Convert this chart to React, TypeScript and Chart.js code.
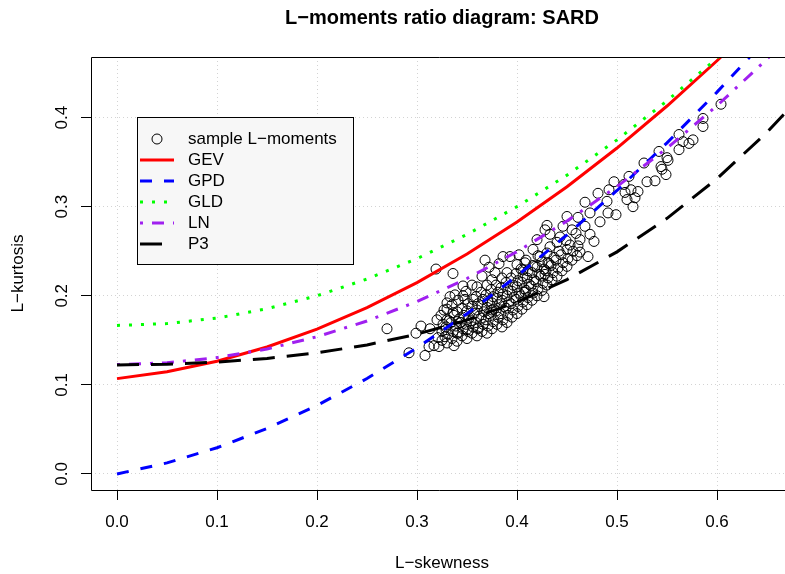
import React, { useEffect, useRef } from "react";
import { Chart, registerables } from "chart.js";

Chart.register(...registerables);

const FONT = '"Liberation Sans", Arial, Helvetica, sans-serif';

const chartTitle = "L\u2212moments ratio diagram: SARD";
const xAxisTitle = "L\u2212skewness";
const yAxisTitle = "L\u2212kurtosis";

const xTickValues = [0, 0.1, 0.2, 0.3, 0.4, 0.5, 0.6];
const yTickValues = [0, 0.1, 0.2, 0.3, 0.4];

// L-skewness grid for the theoretical curves
const skewGrid = [0, 0.05, 0.1, 0.15, 0.2, 0.25, 0.3, 0.35, 0.4, 0.45, 0.5, 0.55, 0.6, 0.65, 0.7];
const gevKurt = [0.1070, 0.1147, 0.1265, 0.1425, 0.1626, 0.1867, 0.2148, 0.2468, 0.2827, 0.3224, 0.3658, 0.4130, 0.4638, 0.5182, 0.5762];
const gpdKurt = [0.0, 0.0124, 0.0294, 0.0510, 0.0769, 0.1071, 0.1415, 0.1799, 0.2222, 0.2683, 0.3182, 0.3716, 0.4286, 0.4889, 0.5526];
const gldKurt = [0.1667, 0.1688, 0.1750, 0.1854, 0.2000, 0.2188, 0.2417, 0.2688, 0.3000, 0.3354, 0.3750, 0.4188, 0.4667, 0.5188, 0.5750];
const lnKurt = [0.1228, 0.1248, 0.1306, 0.1403, 0.1540, 0.1717, 0.1935, 0.2194, 0.2495, 0.2839, 0.3226, 0.3657, 0.4133, 0.4656, 0.5226];
const p3Kurt = [0.1224, 0.1232, 0.1255, 0.1297, 0.1359, 0.1448, 0.1569, 0.1727, 0.1929, 0.2182, 0.2493, 0.2869, 0.3314, 0.3835, 0.4435];

const curveNames = ["GEV", "GPD", "GLD", "LN", "P3"];
const curveValues = [gevKurt, gpdKurt, gldKurt, lnKurt, p3Kurt];
const curveColors = ["#FF0000", "#0000FF", "#00FF00", "#A020F0", "#000000"];
const curveDashes: number[][] = [[], [12, 12], [3, 9], [3, 9, 12, 9], [22, 12]];

const sampleLabel = "sample L\u2212moments";
// [L-skewness, L-kurtosis]
const samplePoints: [number, number][] = [
  [0.325, 0.150], [0.325, 0.160], [0.326, 0.168], [0.324, 0.178],
  [0.330, 0.147], [0.331, 0.157], [0.329, 0.165], [0.332, 0.172], [0.330, 0.185],
  [0.335, 0.152], [0.336, 0.160], [0.334, 0.170], [0.337, 0.178], [0.335, 0.190],
  [0.340, 0.149], [0.341, 0.158], [0.339, 0.166], [0.342, 0.174], [0.340, 0.182], [0.341, 0.195],
  [0.345, 0.155], [0.346, 0.163], [0.344, 0.170], [0.347, 0.178], [0.345, 0.186], [0.346, 0.200],
  [0.350, 0.152], [0.351, 0.160], [0.349, 0.168], [0.352, 0.175], [0.350, 0.183], [0.351, 0.191], [0.349, 0.205],
  [0.355, 0.158], [0.356, 0.165], [0.354, 0.172], [0.357, 0.180], [0.355, 0.188], [0.356, 0.196],
  [0.360, 0.155], [0.361, 0.163], [0.359, 0.170], [0.362, 0.177], [0.360, 0.184], [0.361, 0.191], [0.359, 0.199], [0.360, 0.210],
  [0.365, 0.160], [0.366, 0.168], [0.364, 0.175], [0.367, 0.182], [0.365, 0.189], [0.366, 0.196], [0.364, 0.204],
  [0.370, 0.158], [0.371, 0.166], [0.369, 0.173], [0.372, 0.180], [0.370, 0.187], [0.371, 0.194], [0.369, 0.201], [0.370, 0.212],
  [0.375, 0.163], [0.376, 0.171], [0.374, 0.178], [0.377, 0.185], [0.375, 0.192], [0.376, 0.199], [0.374, 0.207], [0.375, 0.218],
  [0.380, 0.168], [0.381, 0.176], [0.379, 0.183], [0.382, 0.190], [0.380, 0.197], [0.381, 0.204], [0.379, 0.212],
  [0.385, 0.165], [0.386, 0.173], [0.384, 0.180], [0.387, 0.188], [0.385, 0.195], [0.386, 0.202], [0.384, 0.209], [0.385, 0.220],
  [0.390, 0.170], [0.391, 0.178], [0.389, 0.186], [0.392, 0.193], [0.390, 0.200], [0.391, 0.207], [0.389, 0.215], [0.390, 0.226],
  [0.395, 0.176], [0.396, 0.184], [0.394, 0.191], [0.397, 0.198], [0.395, 0.205], [0.396, 0.212], [0.394, 0.220],
  [0.400, 0.180], [0.401, 0.188], [0.399, 0.196], [0.402, 0.203], [0.400, 0.210], [0.401, 0.217], [0.399, 0.225], [0.400, 0.235], [0.402, 0.246],
  [0.405, 0.185], [0.406, 0.193], [0.404, 0.200], [0.407, 0.208], [0.405, 0.215], [0.406, 0.222], [0.404, 0.230],
  [0.410, 0.190], [0.411, 0.198], [0.409, 0.206], [0.412, 0.213], [0.410, 0.220], [0.411, 0.228], [0.409, 0.240],
  [0.415, 0.195], [0.416, 0.203], [0.414, 0.211], [0.417, 0.218], [0.415, 0.226], [0.416, 0.234],
  [0.420, 0.200], [0.421, 0.208], [0.419, 0.216], [0.422, 0.224], [0.420, 0.232], [0.421, 0.245],
  [0.425, 0.206], [0.426, 0.214], [0.424, 0.222], [0.427, 0.230], [0.425, 0.238],
  [0.430, 0.212], [0.431, 0.220], [0.429, 0.228], [0.432, 0.236], [0.430, 0.248],
  [0.435, 0.218], [0.436, 0.226], [0.434, 0.234], [0.437, 0.243],
  [0.440, 0.222], [0.441, 0.231], [0.439, 0.240], [0.442, 0.250],
  [0.445, 0.228], [0.446, 0.237], [0.444, 0.246],
  [0.450, 0.233], [0.451, 0.242], [0.449, 0.262],
  [0.455, 0.240], [0.456, 0.250],
  [0.460, 0.245], [0.461, 0.256], [0.459, 0.270],
  [0.365, 0.222], [0.372, 0.232], [0.378, 0.226], [0.368, 0.240], [0.382, 0.236],
  [0.604, 0.415], [0.586, 0.399], [0.586, 0.390], [0.576, 0.375], [0.572, 0.371], [0.562, 0.381],
  [0.566, 0.373], [0.562, 0.364], [0.542, 0.362], [0.550, 0.355], [0.551, 0.352], [0.544, 0.345],
  [0.545, 0.342], [0.549, 0.336], [0.527, 0.349], [0.530, 0.328], [0.538, 0.329], [0.512, 0.334],
  [0.497, 0.328], [0.507, 0.325], [0.514, 0.319], [0.521, 0.317], [0.508, 0.316], [0.492, 0.319],
  [0.490, 0.306], [0.516, 0.300], [0.518, 0.310], [0.510, 0.308], [0.481, 0.315], [0.468, 0.305],
  [0.491, 0.293], [0.499, 0.291], [0.483, 0.283], [0.473, 0.293], [0.450, 0.289], [0.430, 0.279],
  [0.461, 0.288], [0.468, 0.278], [0.473, 0.269], [0.477, 0.261], [0.463, 0.263], [0.455, 0.274],
  [0.446, 0.278], [0.443, 0.266], [0.453, 0.257], [0.463, 0.249], [0.471, 0.244], [0.450, 0.252],
  [0.440, 0.260], [0.433, 0.269], [0.428, 0.274], [0.420, 0.263], [0.416, 0.252], [0.423, 0.244],
  [0.431, 0.237], [0.428, 0.224], [0.433, 0.255], [0.408, 0.237], [0.406, 0.229], [0.418, 0.233],
  [0.408, 0.204], [0.427, 0.199], [0.393, 0.244], [0.386, 0.244],
  [0.319, 0.230], [0.336, 0.225], [0.270, 0.163], [0.292, 0.136], [0.308, 0.133], [0.304, 0.166],
  [0.299, 0.158], [0.313, 0.163], [0.317, 0.144], [0.322, 0.143], [0.321, 0.153], [0.328, 0.154],
  [0.337, 0.144], [0.320, 0.173], [0.329, 0.162], [0.330, 0.173], [0.327, 0.184], [0.330, 0.192],
  [0.333, 0.199], [0.338, 0.201], [0.355, 0.212], [0.336, 0.181], [0.343, 0.170], [0.350, 0.162],
  [0.361, 0.164], [0.340, 0.158], [0.312, 0.143], [0.346, 0.211], [0.348, 0.196], [0.375, 0.184],
];

const decorPlugin = {
  id: "decor",
  afterDatasetsDraw(chart: any) {
    const ctx = chart.ctx as CanvasRenderingContext2D;
    const a = chart.chartArea;
    const ys = chart.scales.y;
    ctx.save();
    // frame (right side lies beyond the picture edge)
    ctx.strokeStyle = "#000";
    ctx.lineWidth = 1;
    ctx.setLineDash([]);
    ctx.beginPath();
    ctx.moveTo(a.right + 2, Math.round(a.bottom) + 0.5);
    ctx.lineTo(Math.round(a.left) + 0.5, Math.round(a.bottom) + 0.5);
    ctx.lineTo(Math.round(a.left) + 0.5, Math.round(a.top) + 0.5);
    ctx.lineTo(a.right + 2, Math.round(a.top) + 0.5);
    ctx.stroke();

    // title
    const cx = 442;
    ctx.fillStyle = "#000";
    ctx.textAlign = "center";
    ctx.textBaseline = "middle";
    ctx.font = `bold 20px ${FONT}`;
    ctx.fillText(chartTitle, cx, 18);
    // x title
    ctx.font = `17px ${FONT}`;
    ctx.fillText(xAxisTitle, cx, 563);
    // y title
    ctx.save();
    ctx.translate(18, (a.top + a.bottom) / 2);
    ctx.rotate(-Math.PI / 2);
    ctx.fillText(yAxisTitle, 0, 0);
    ctx.restore();
    // y tick labels
    yTickValues.forEach((v) => {
      ctx.save();
      ctx.translate(62, ys.getPixelForValue(v));
      ctx.rotate(-Math.PI / 2);
      ctx.fillText(v.toFixed(1), 0, 0);
      ctx.restore();
    });

    // legend
    const lx = 137, ly = 117, lw = 216, lh = 147;
    ctx.fillStyle = "#F7F7F7";
    ctx.fillRect(lx, ly, lw, lh);
    ctx.strokeStyle = "#000";
    ctx.lineWidth = 1;
    ctx.strokeRect(lx + 0.5, ly + 0.5, lw, lh);
    const rowY = (i: number) => 139 + i * 21;
    ctx.textAlign = "left";
    ctx.font = `17px ${FONT}`;
    ctx.fillStyle = "#000";
    ctx.fillText(sampleLabel, 188, rowY(0));
    ctx.beginPath();
    ctx.arc(157, rowY(0), 5, 0, Math.PI * 2);
    ctx.stroke();
    curveNames.forEach((name, i) => {
      const y = rowY(i + 1);
      ctx.save();
      ctx.strokeStyle = curveColors[i];
      ctx.lineWidth = 3;
      ctx.lineCap = "butt";
      ctx.setLineDash(curveDashes[i]);
      ctx.beginPath();
      ctx.moveTo(140, y);
      ctx.lineTo(174, y);
      ctx.stroke();
      ctx.restore();
      ctx.fillStyle = "#000";
      ctx.fillText(name, 188, y);
    });
    ctx.restore();
  },
};

export default function App() {
  const ref = useRef<HTMLCanvasElement | null>(null);
  useEffect(() => {
    const canvas = ref.current;
    if (!canvas) return;
    const curveSets = curveNames.map((name, i) => ({
      label: name,
      data: skewGrid.map((x, j) => ({ x, y: curveValues[i][j] })),
      showLine: true,
      borderColor: curveColors[i],
      backgroundColor: curveColors[i],
      borderWidth: 3,
      borderDash: curveDashes[i],
      borderCapStyle: "butt",
      pointRadius: 0,
      pointHoverRadius: 0,
      tension: 0,
      fill: false,
      clip: 0,
      order: 5 - i,
    }));
    const chart = new Chart(canvas, {
      type: "scatter",
      data: {
        datasets: [
          {
            label: sampleLabel,
            data: samplePoints.map(([x, y]) => ({ x, y })),
            showLine: false,
            pointRadius: 5,
            pointHoverRadius: 5,
            pointBorderWidth: 1,
            pointBorderColor: "#000",
            pointBackgroundColor: "rgba(0,0,0,0)",
            borderColor: "#000",
            backgroundColor: "rgba(0,0,0,0)",
            order: 10,
          },
          ...curveSets,
        ] as any,
      },
      options: {
        responsive: false,
        animation: false,
        devicePixelRatio: 1,
        events: [],
        layout: { padding: { top: 57, left: 0, right: 0, bottom: 0 } },
        plugins: {
          legend: { display: false },
          title: { display: false },
          tooltip: { enabled: false },
        },
        scales: {
          x: {
            type: "linear",
            min: -0.026,
            max: 0.668,
            afterBuildTicks: (s: any) => {
              s.ticks = xTickValues.map((v) => ({ value: v }));
            },
            afterFit: (s: any) => {
              s.height = 84;
              s.paddingLeft = 0;
              s.paddingRight = 0;
            },
            grid: {
              color: "#D3D3D3",
              lineWidth: 1,
              drawTicks: true,
              tickLength: 10,
              tickColor: "#000",
              tickWidth: 1,
              tickBorderDash: [],
            },
            border: { display: false, dash: [1, 3] },
            ticks: {
              color: "#000",
              font: { family: FONT, size: 17 },
              padding: 12,
              maxRotation: 0,
              minRotation: 0,
              autoSkip: false,
              callback: (v: any) => Number(v).toFixed(1),
            },
          },
          y: {
            type: "linear",
            min: -0.018,
            max: 0.468,
            afterBuildTicks: (s: any) => {
              s.ticks = yTickValues.map((v) => ({ value: v }));
            },
            afterFit: (s: any) => {
              s.width = 91;
              s.paddingTop = 0;
              s.paddingBottom = 0;
            },
            grid: {
              color: "#D3D3D3",
              lineWidth: 1,
              drawTicks: true,
              tickLength: 10,
              tickColor: "#000",
              tickWidth: 1,
              tickBorderDash: [],
            },
            border: { display: false, dash: [1, 3] },
            ticks: { display: false },
          },
        },
      } as any,
      plugins: [decorPlugin],
    });
    return () => chart.destroy();
  }, []);
  return (
    <div style={{ position: "fixed", left: 0, top: 0, width: 785, height: 574, overflow: "hidden", background: "#fff" }}>
      <canvas ref={ref} width={791} height={574} style={{ display: "block" }} />
    </div>
  );
}
